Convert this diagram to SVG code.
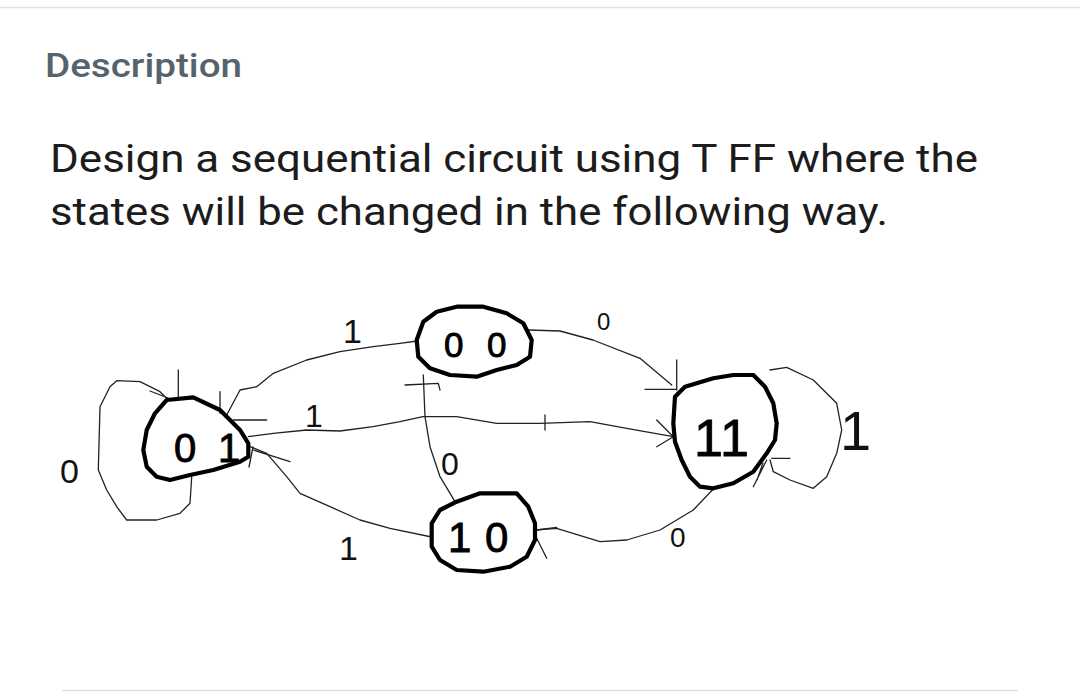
<svg xmlns="http://www.w3.org/2000/svg" width="1080" height="699" viewBox="0 0 1080 699">
<style>
.title{font-family:Roboto,"Liberation Sans",sans-serif;font-weight:500;font-size:33px;fill:#56636d}
.body{font-family:Roboto,"Liberation Sans",sans-serif;font-size:38px;fill:#1c1c1c}
.node{fill:none;stroke:#000;stroke-width:4.2;stroke-linejoin:round;stroke-linecap:round}
.state{font-family:"Liberation Sans",sans-serif;fill:#000;stroke:#000;stroke-width:0.9}
.edge{fill:none;stroke:#222;stroke-width:1.3;stroke-linejoin:round;stroke-linecap:round}
.lbl{font-family:"Liberation Sans",sans-serif;fill:#111}
.rule{stroke:#e0e0e0;stroke-width:1.5}
</style>
<rect width="1080" height="699" fill="#fff"/>
<line class="rule" x1="0" y1="7.5" x2="1080" y2="7.5"/>
<line class="rule" x1="62" y1="690.5" x2="1018" y2="690.5"/>
<text class="title" x="45" y="77" textLength="197" lengthAdjust="spacingAndGlyphs">Description</text>
<text class="body" x="50" y="172" textLength="928" lengthAdjust="spacingAndGlyphs">Design a sequential circuit using T FF where the</text>
<text class="body" x="50" y="225" textLength="838" lengthAdjust="spacingAndGlyphs">states will be changed in the following way.</text>

<g id="connectors">
  <!-- 00 -> 01 top curve -->
  <path class="edge" d="M226.7,415 L240,390 L256.7,386.7 L273.3,373.3 L306.7,360 L340,351.7 L373.3,346.7 L400,343.3 L417,341"/>
  <path class="edge" d="M220,391.7 L220,413.3 M233.3,420 L266.7,420"/>
  <!-- 01 -> 11 middle -->
  <path class="edge" d="M248.3,436.7 L273.3,433.3 L306.7,430 L340,431 L373,426.7 L400,421.7 L423,416.7 L456.7,416.7 L496.7,423.3 L540,423.3 L590,421.7 L626.7,428.3 L673.3,436.7"/>
  <path class="edge" d="M545,415 L545,430 M656.7,420 L673.3,436.7 L656.7,446.7"/>
  <!-- 10 -> 01 lower -->
  <path class="edge" d="M250,446.7 L266.7,453.3 L286.7,476.7 L300,493.3 L330,506.7 L360,520 L390,528.3 L431.7,537"/>
  <path class="edge" d="M253.3,450 L290,461.7 M253,447 L249,467"/>
  <!-- 00 -> 11 -->
  <path class="edge" d="M528.3,330 L560,331 L593,340 L640,358.3 L671.7,385"/>
  <path class="edge" d="M676.7,360 L676.7,390 M645,389.3 L676.7,389.3"/>
  <!-- 10 -> 00 vertical -->
  <path class="edge" d="M423.3,375 L425,416.7 L430,446.7 L440,476.7 L455,501.7"/>
  <path class="edge" d="M405,385 L438.3,383.3 L440,390"/>
  <!-- 10 -> 11 bottom -->
  <path class="edge" d="M535,530 L556.7,528.3 L600,541.7 L626.7,540 L660,530 L693.3,510 L713.3,489"/>
  <path class="edge" d="M536.7,530 L556.7,527.3 M536.7,538.3 L546.7,558.3"/>
  <!-- self loop 01 -->
  <path class="edge" d="M166.7,398.3 L160,391.7 L150,386.7 L140,381.7 L116.7,380.7 L110,386.7 L100,406.7 L98.3,470 L106.7,490 L116.7,506.7 L126.7,520 L156.7,520 L180,513.3 L190,503.3 L191.7,476.7"/>
  <path class="edge" d="M150,391 L168,398 M178.3,370 L178.3,398.3"/>
  <!-- self loop 11 -->
  <path class="edge" d="M770,370 L786.7,367.3 L813.3,380 L836.7,403.3 L841.7,430 L836.7,453.3 L826.7,476.7 L813.3,488.3 L790,480 L773.3,471.7 L770,460"/>
  <path class="edge" d="M771.7,458.3 L790,458.3 M766.7,460 L753.3,486.7 M763,463 L757,480"/>
  <!-- labels -->
  <text class="lbl" x="343" y="343" font-size="34">1</text>
  <text class="lbl" x="305" y="427" font-size="32">1</text>
  <text class="lbl" x="339" y="560" font-size="34">1</text>
  <text class="lbl" x="840" y="450" font-size="56">1</text>
  <text class="lbl" x="60" y="483" font-size="34">0</text>
  <text class="lbl" x="597" y="330" font-size="24">0</text>
  <text class="lbl" x="441" y="475" font-size="32">0</text>
  <text class="lbl" x="670" y="547" font-size="28">0</text>
</g>

<g id="node-01">
  <path class="node" d="M166.7,400 L193.3,397.3 L220,410 L240,430 L248.3,443.3 L248.3,456.7 L240,461.7 L213.3,470 L190,475 L170,480 L156.7,476.7 L146.7,466.7 L143.3,450 L146.7,430 L155,413.3 Z"/>
  <text class="state" x="174 218" y="462" font-size="40">01</text>
</g>
<g id="node-00">
  <path class="node" d="M416.7,340 L423.3,321.7 L436.7,311.7 L456.7,306.7 L483.3,306.7 L506.7,313.3 L523.3,323.3 L531.7,340 L530,356.7 L516.7,365 L496.7,370 L476.7,376.7 L450,375 L430,368.3 L418.3,356.7 Z"/>
  <text class="state" x="444 487" y="357" font-size="35">00</text>
</g>
<g id="node-10">
  <path class="node" d="M431.7,523.3 L440,510 L456.7,501.7 L480,493.3 L516.7,493.3 L528.3,506.7 L535,523.3 L535,540 L526.7,556.7 L510,566.7 L483.3,571.7 L456.7,570 L440,560 L431.7,546.7 Z"/>
  <text class="state" x="448 485" y="552" font-size="42">10</text>
</g>
<g id="node-11">
  <path class="node" d="M675,396.7 L685,386.7 L713.3,378.3 L733.3,375 L753.3,375 L765,386.7 L773.3,403.3 L776.7,423.3 L775,440 L766.7,453.3 L753.3,471.7 L733.3,483.3 L713.3,488.3 L700,486.7 L690,476.7 L681.7,460 L675,441.7 L673.3,423.3 Z"/>
  <text class="state" x="694 720" y="456" font-size="52">11</text>
</g>
</svg>
